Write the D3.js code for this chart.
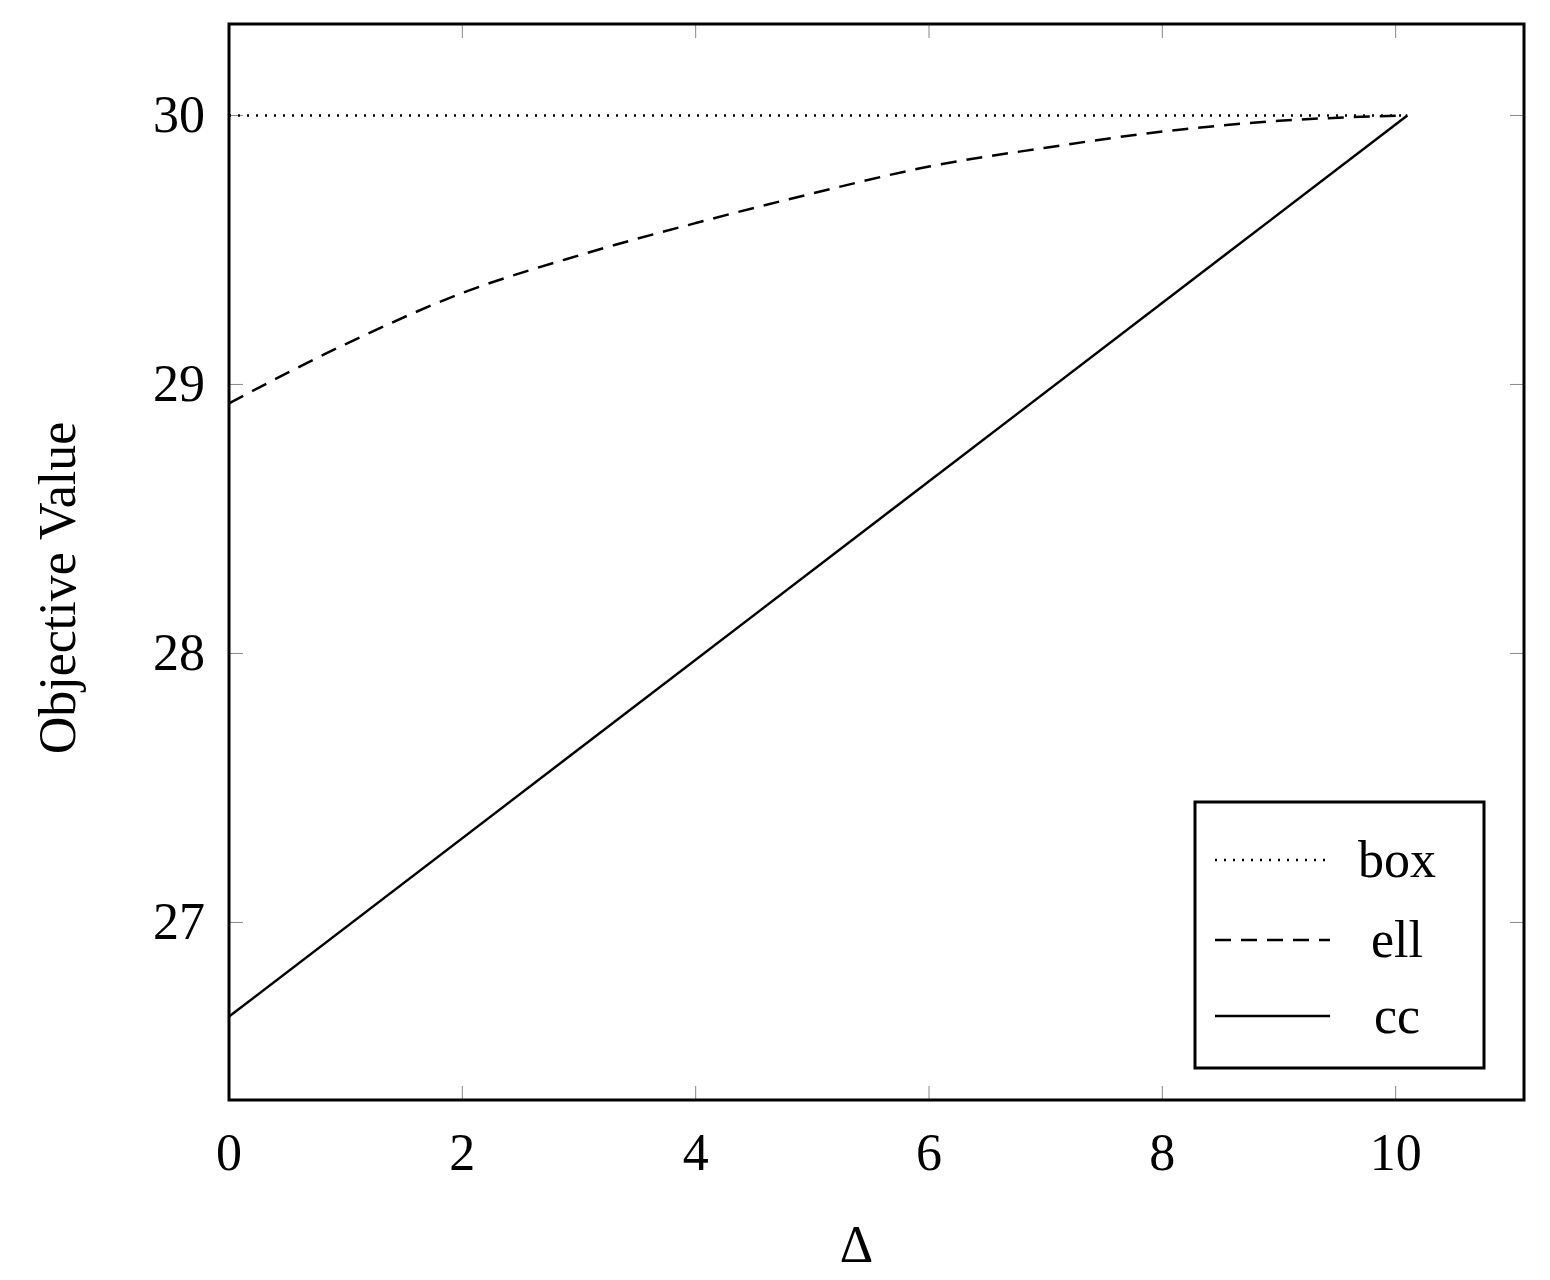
<!DOCTYPE html>
<html><head><meta charset="utf-8">
<script src="https://cdn.jsdelivr.net/npm/d3@7"></script>
<style>body{margin:0;background:#fff}text{font-family:"Liberation Serif","DejaVu Serif",serif}</style>
</head><body><svg id="c" width="1550" height="1280"></svg>
<script>
const xTicks=[0,2,4,6,8,10];
const yTicks=[27,28,29,30];
const boxX=[0,10.1], boxY=[30,30];
const ellX=[0,1,2,3,4,5,6,7,8,9,10.1];
const ellY=[28.93,29.15,29.34,29.48,29.60,29.71,29.81,29.88,29.94,29.98,30];
const ccX=[0,10.1], ccY=[26.65,30];
const svg=d3.select("#c");
const L=229,R=1524,T=24,B=1100;
const x=d3.scaleLinear().domain([0,11.1]).range([L,R]);
const y=d3.scaleLinear().domain([26.34,30.34]).range([B,T]);
const g=svg.append("g");
const tick="#888";
xTicks.forEach(v=>{g.append("line").attr("x1",x(v)).attr("x2",x(v)).attr("y1",B).attr("y2",B-14).attr("stroke",tick);
 g.append("line").attr("x1",x(v)).attr("x2",x(v)).attr("y1",T).attr("y2",T+14).attr("stroke",tick);
 g.append("text").attr("x",x(v)).attr("y",B+70).attr("text-anchor","middle").attr("font-size",52).text(v);});
yTicks.forEach(v=>{g.append("line").attr("x1",L).attr("x2",L+14).attr("y1",y(v)).attr("y2",y(v)).attr("stroke",tick);
 g.append("line").attr("x1",R).attr("x2",R-14).attr("y1",y(v)).attr("y2",y(v)).attr("stroke",tick);
 g.append("text").attr("x",L-24).attr("y",y(v)+17).attr("text-anchor","end").attr("font-size",52).text(v);});
const line=(xs,ys)=>d3.line().x((d,i)=>x(xs[i])).y(d=>y(d)).curve(d3.curveMonotoneX)(ys);
g.append("path").attr("d",line(boxX,boxY)).attr("fill","none").attr("stroke","#000").attr("stroke-width",2.5).attr("stroke-dasharray","2,7");
g.append("path").attr("d",line(ellX,ellY)).attr("fill","none").attr("stroke","#000").attr("stroke-width",2.5).attr("stroke-dasharray","16,10");
g.append("path").attr("d",line(ccX,ccY)).attr("fill","none").attr("stroke","#000").attr("stroke-width",2.5);
g.append("rect").attr("x",L).attr("y",T).attr("width",R-L).attr("height",B-T).attr("fill","none").attr("stroke","#000").attr("stroke-width",3);
g.append("text").attr("x",(L+R)/2-20).attr("y",1262).attr("text-anchor","middle").attr("font-size",52).text("Δ");
g.append("text").attr("transform",`translate(75,${(T+B)/2+26}) rotate(-90)`).attr("text-anchor","middle").attr("font-size",52).text("Objective Value");
const lg=g.append("g");
lg.append("rect").attr("x",1195).attr("y",802).attr("width",289).attr("height",266).attr("fill","#fff").attr("stroke","#000").attr("stroke-width",3);
const items=[["box","2,7",860],["ell","16,10",940],["cc",null,1016]];
items.forEach(([t,da,yy])=>{const l=lg.append("line").attr("x1",1215).attr("x2",1330).attr("y1",yy).attr("y2",yy).attr("stroke","#000").attr("stroke-width",2.5);
 if(da)l.attr("stroke-dasharray",da);
 lg.append("text").attr("x",1397).attr("y",yy+17).attr("text-anchor","middle").attr("font-size",52).text(t);});
</script></body></html>
